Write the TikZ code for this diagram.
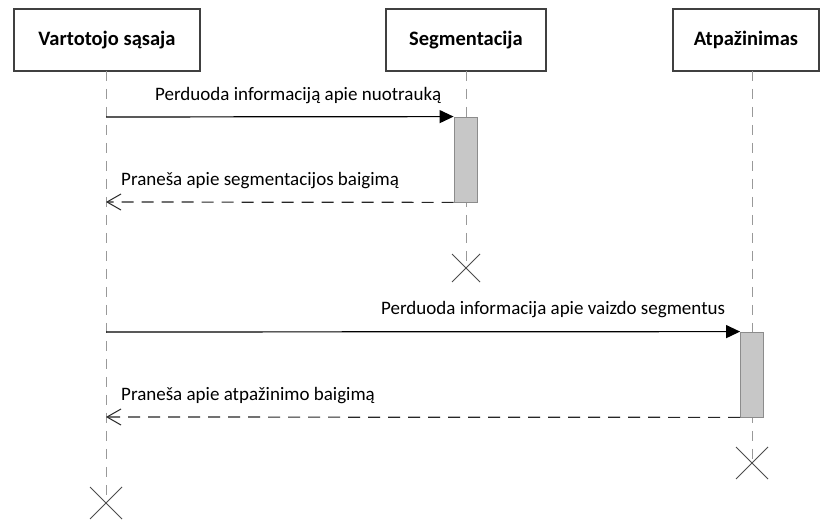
\documentclass[tikz,border=0pt]{standalone}
\usepackage{fontspec}
\setmainfont{Carlito}
\usetikzlibrary{arrows.meta}
\begin{document}
\begin{tikzpicture}[x=1pt,y=-1pt,
  head/.style={draw=black!75,line width=1.3pt,fill=white,minimum height=62pt,inner sep=0pt,font=\fontsize{20.5}{24}\selectfont\bfseries},
  life/.style={draw=black!40,line width=1pt,dash pattern=on 10pt off 8pt},
  act/.style={draw=black!45,fill=black!22,line width=0.8pt,minimum width=23pt,inner sep=0pt},
  msg/.style={draw=black,line width=1.2pt,-{Triangle[length=14pt,width=13pt]}},
  ret/.style={draw=black!85,line width=1.2pt,dash pattern=on 12pt off 8pt,-{Straight Barb[length=14pt,width=16pt,line width=1pt]}},
  lbl/.style={font=\fontsize{19}{22}\selectfont,inner sep=0pt,anchor=base west},
  xmark/.style={draw=black!70,line width=0.9pt}]
\useasboundingbox (0,0) rectangle (820,521);
\fill[white] (0,0) rectangle (820,521);
% headers
\node[head,minimum width=186pt] (h1) at (107,40) {Vartotojo sąsaja};
\node[head,minimum width=160pt] (h2) at (466,40) {Segmentacija};
\node[head,minimum width=146pt] (h3) at (746,40) {Atpažinimas};
% lifeline coordinates
\coordinate (l1) at (106,71);
\coordinate (e1) at (106,503);
\coordinate (l2) at (466,71);
\coordinate (e2) at (466,268);
\coordinate (l3) at (752,71);
\coordinate (e3) at (752,463);
\draw[life] (l1) -- (e1);
\draw[life] (l2) -- (e2);
\draw[life] (l3) -- (e3);
% activations
\node[act,minimum height=85pt] (a1) at (465.5,159.5) {};
\node[act,minimum height=85pt] (a2) at (752,374.5) {};
% message endpoints on lifeline 1
\coordinate (m1) at (106,117);
\coordinate (r1) at (106,202);
\coordinate (m2) at (106,332);
\coordinate (r2) at (106,417);
\draw[msg] (m1) -- (a1.north west);
\draw[ret] (a1.south west) -- (r1);
\draw[msg] (m2) -- (a2.north west);
\draw[ret] (a2.south west) -- (r2);
% labels
\node[lbl] (t1) at (155,101) {Perduoda informaciją apie nuotrauką};
\node[lbl] (t2) at (121,186) {Praneša apie segmentacijos baigimą};
\node[lbl] (t3) at (381,315) {Perduoda informacija apie vaizdo segmentus};
\node[lbl] (t4) at (121,401) {Praneša apie atpažinimo baigimą};
% destruction marks
\draw[xmark,shift={(e2)}] (-14,-14) -- (14,14) (-14,14) -- (14,-14);
\draw[xmark,shift={(e3)}] (-16,-16) -- (16,16) (-16,16) -- (16,-16);
\draw[xmark,shift={(e1)}] (-16,-16) -- (16,16) (-16,16) -- (16,-16);
\end{tikzpicture}
\end{document}
